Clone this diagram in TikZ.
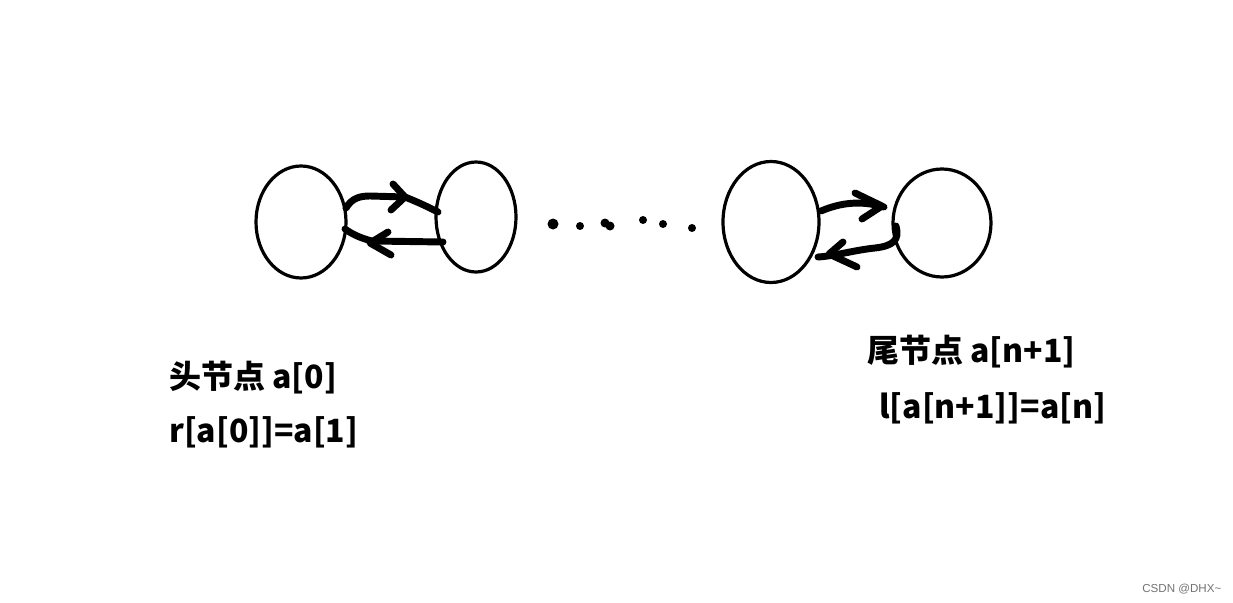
\documentclass[tikz,border=0pt]{standalone}
\usepackage{fontspec}
\newfontfamily\cjk{Noto Sans CJK SC}
\newfontfamily\wm{Liberation Sans}
\usetikzlibrary{shapes.geometric}
\tikzset{
  nodeell/.style={draw, ellipse, line width=2.4pt, inner sep=0pt},
  stroke/.style={line width=5.2pt, line cap=round, line join=round},
  chev/.style={line width=5.2pt, line cap=round, line join=round},
  dotmark/.style={fill, circle, inner sep=0pt, minimum size=#1*0.75pt},
  lbl/.style={anchor=west, font=\cjk\bfseries\fontsize{24pt}{29pt}\selectfont, inner sep=0pt},
}
\begin{document}
\begin{tikzpicture}[x=0.75pt, y=-0.75pt]
\useasboundingbox (0,0) rectangle (1233,603);
% ellipses
\node[nodeell, minimum width=90*0.75pt, minimum height=112*0.75pt] (n1) at (301,222) {};
\node[nodeell, minimum width=80*0.75pt, minimum height=110*0.75pt] (n2) at (476,217) {};
\node[nodeell, minimum width=96*0.75pt, minimum height=121*0.75pt] (n3) at (771,222) {};
\node[nodeell, minimum width=98*0.75pt, minimum height=108*0.75pt] (n4) at (942,223) {};
% left pair arrows
\coordinate (a1s) at (346,208);
\coordinate (a1e) at (438,212);
\draw[stroke] (a1s) .. controls (352,198) and (360,196) .. (370,196) -- (405,197) .. controls (420,203) and (430,208) .. (a1e);
\draw[chev] (393,184) -- (405,197) -- (391,210);
\coordinate (a2s) at (443,242);
\coordinate (a2e) at (345,229);
\draw[stroke] (a2s) -- (372,241) .. controls (360,238) and (352,234) .. (a2e);
\draw[chev] (388,232) -- (370,243) -- (391,255);
% right pair arrows
\coordinate (b1s) at (821,211);
\coordinate (b1e) at (884,207);
\draw[stroke] (b1s) .. controls (840,203) and (860,200) .. (b1e);
\draw[chev] (855,193) -- (882,206) -- (862,219);
\coordinate (b2s) at (896,226);
\coordinate (b2e) at (818,257);
\draw[stroke] (b2s) .. controls (900,240) and (893,246) .. (875,248) .. controls (855,250) and (835,256) .. (b2e);
\draw[chev] (843,242) -- (829,254) -- (857,267);
% dots
\node[dotmark=11] (d1) at (553,224) {};
\node[dotmark=8] (d2) at (580,226) {};
\node[dotmark=9] (d3) at (605,223) {};
\node[dotmark=9] (d3b) at (610,226) {};
\node[dotmark=8] (d4) at (643,220) {};
\node[dotmark=8] (d5) at (663,224) {};
\node[dotmark=8] (d6) at (692,228) {};
% labels
\node[lbl] (t1) at (169,378) {头节点 a[0]};
\node[lbl] (t2) at (169,432) {r[a[0]]=a[1]};
\node[lbl] (t3) at (867,352) {尾节点 a[n+1]};
\node[lbl] (t4) at (879,408) {l[a[n+1]]=a[n]};
\node[anchor=west, inner sep=0pt, text=black!55, font=\wm\fontsize{8.7pt}{10pt}\selectfont] (wm) at (1142,589) {CSDN @DHX\textasciitilde};
\end{tikzpicture}
\end{document}
